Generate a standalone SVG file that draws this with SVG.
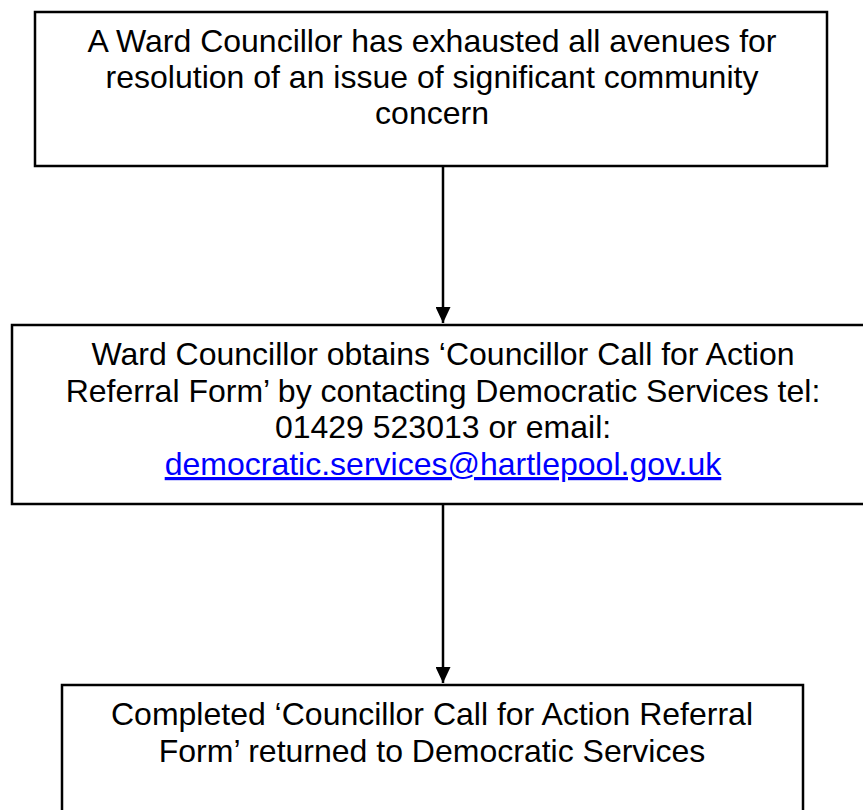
<svg xmlns="http://www.w3.org/2000/svg" width="863" height="810" viewBox="0 0 863 810">
<style>
.box{fill:#fff;stroke:#000;stroke-width:2.5}
.t{font-family:"Liberation Sans",Arial,sans-serif;font-size:32px;fill:#000;text-anchor:middle}
.link{fill:#0000ff;text-decoration:underline}
.conn{stroke:#000;stroke-width:2.5;fill:none}
</style>
<defs>
<marker id="ah" markerUnits="userSpaceOnUse" markerWidth="16" markerHeight="15" refX="16" refY="7.5" orient="auto">
<path d="M0,0 L16,7.5 L0,15 Z" fill="#000"/>
</marker>
</defs>
<rect width="863" height="810" fill="#fff"/>
<g id="node1">
<rect class="box" x="35" y="12" width="792" height="154"/>
<text class="t" x="432" y="52">A Ward Councillor has exhausted all avenues for</text>
<text class="t" x="432" y="88">resolution of an issue of significant community</text>
<text class="t" x="432" y="124">concern</text>
</g>
<g id="node2">
<rect class="box" x="12" y="325" width="870" height="179"/>
<text class="t" x="443" y="365">Ward Councillor obtains ‘Councillor Call for Action</text>
<text class="t" x="443" y="402">Referral Form’ by contacting Democratic Services tel:</text>
<text class="t" x="443" y="438">01429 523013 or email:</text>
<text class="t link" x="443" y="475">democratic.services@hartlepool.gov.uk</text>
</g>
<g id="node3">
<rect class="box" x="62" y="685" width="741" height="140"/>
<text class="t" x="432" y="725">Completed ‘Councillor Call for Action Referral</text>
<text class="t" x="432" y="762">Form’ returned to Democratic Services</text>
</g>
<g id="connectors">
<line class="conn" x1="443" y1="166" x2="443" y2="323" marker-end="url(#ah)"/>
<line class="conn" x1="443" y1="504" x2="443" y2="683" marker-end="url(#ah)"/>
</g>
</svg>
